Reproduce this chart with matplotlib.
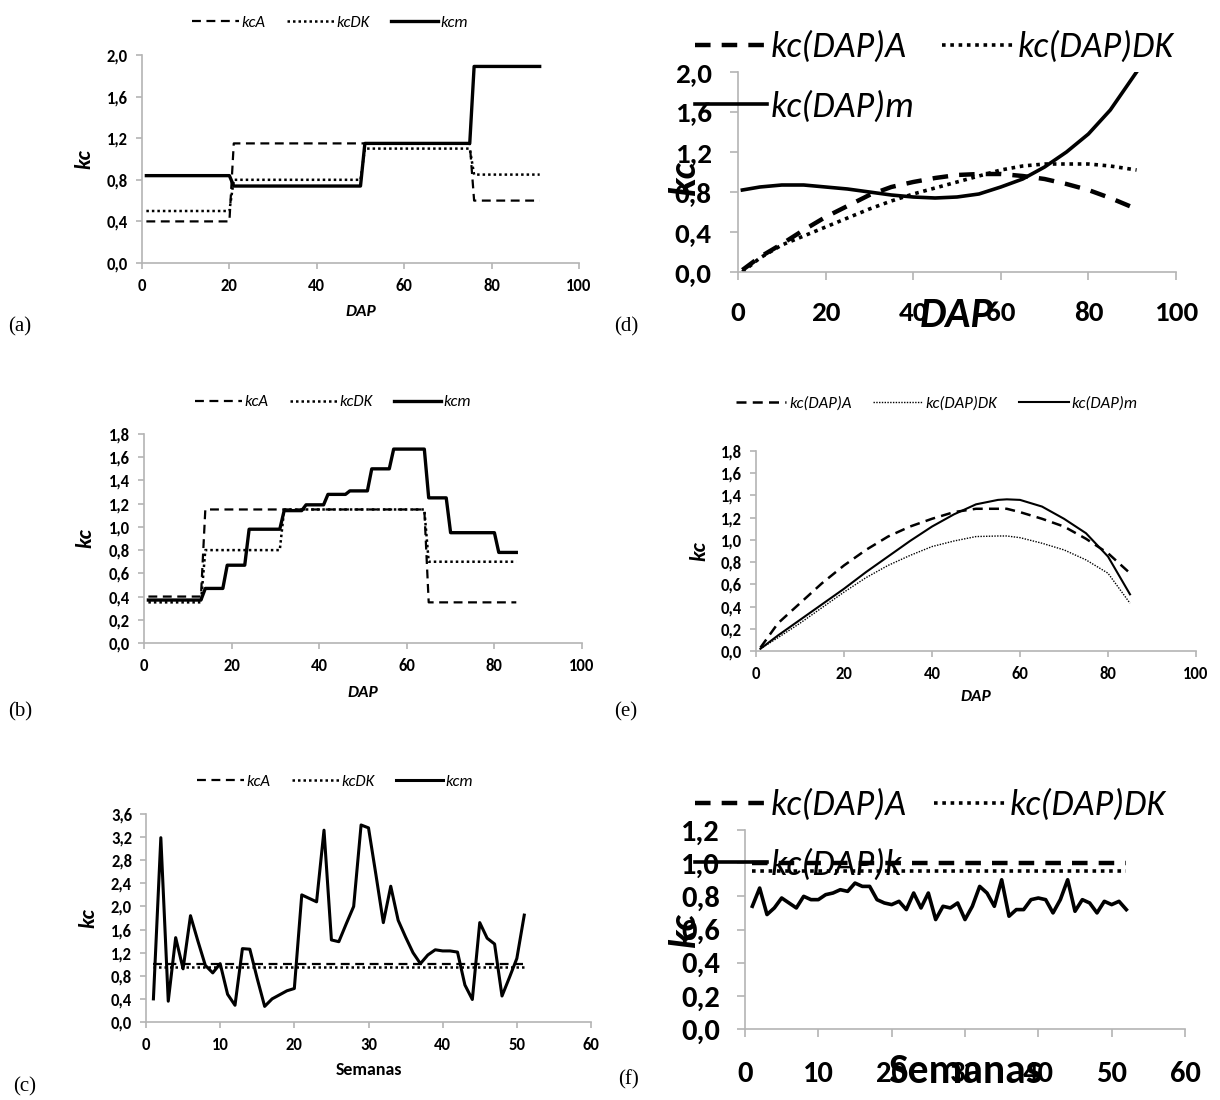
import numpy as np
import matplotlib
matplotlib.use("Agg")
import matplotlib.pyplot as plt
from matplotlib.ticker import FuncFormatter, MultipleLocator

plt.rcParams['font.family'] = ['Carlito', 'DejaVu Sans']

# ======================================================
# DATA
# ======================================================
# (a) step kc by stage (DAP)
a_x_A = [1, 20, 21, 75, 76, 91]
a_kcA = [0.40, 0.40, 1.15, 1.15, 0.60, 0.60]
a_x_DK = [1, 20, 21, 50, 51, 75, 76, 91]
a_kcDK = [0.50, 0.50, 0.80, 0.80, 1.10, 1.10, 0.85, 0.85]
a_x_m = [1, 20, 21, 50, 51, 75, 76, 91]
a_kcm = [0.84, 0.84, 0.74, 0.74, 1.15, 1.15, 1.89, 1.89]

# (b) step kc by stage (DAP)
b_x_A = [1, 13, 14, 64, 65, 85]
b_kcA = [0.40, 0.40, 1.15, 1.15, 0.35, 0.35]
b_x_DK = [1, 13, 14, 31, 32, 64, 65, 85]
b_kcDK = [0.35, 0.35, 0.80, 0.80, 1.15, 1.15, 0.70, 0.70]
b_x_m = [1, 13, 14, 18, 19, 23, 24, 31, 32, 36, 37, 41, 42, 46, 47, 51,
         52, 56, 57, 64, 65, 69, 70, 80, 81, 85]
b_kcm = [0.37, 0.37, 0.47, 0.47, 0.67, 0.67, 0.98, 0.98, 1.14, 1.14,
         1.19, 1.19, 1.28, 1.28, 1.31, 1.31, 1.50, 1.50, 1.67, 1.67,
         1.25, 1.25, 0.95, 0.95, 0.78, 0.78]

# (c) weekly kc
c_weeks = list(range(1, 52))
c_kcA = [1.00] * 51
c_kcDK = [0.95] * 51
c_kcm = [0.40, 3.19, 0.36, 1.46, 0.92, 1.84, 1.40, 0.98, 0.85, 1.01,
         0.48, 0.29, 1.27, 1.26, 0.75, 0.27, 0.40, 0.47, 0.54, 0.58,
         2.20, 2.14, 2.08, 3.32, 1.42, 1.39, 1.70, 2.00, 3.41, 3.36,
         2.55, 1.72, 2.35, 1.76, 1.47, 1.20, 1.01, 1.16, 1.25, 1.23,
         1.23, 1.21, 0.64, 0.39, 1.72, 1.45, 1.35, 0.45, 0.77, 1.10,
         1.85]

# (d) kc(DAP) fitted curves
d_dap = [1, 5, 10, 15, 20, 25, 30, 35, 40, 45, 50, 55, 60, 65, 70, 75, 80, 85, 91]
d_kcA = [0.02, 0.15, 0.28, 0.42, 0.55, 0.66, 0.77, 0.85, 0.90, 0.94, 0.97, 0.98,
         0.98, 0.96, 0.93, 0.88, 0.82, 0.74, 0.63]
d_kcDK = [0.00, 0.14, 0.27, 0.36, 0.45, 0.54, 0.63, 0.71, 0.78, 0.84, 0.90, 0.96,
          1.02, 1.06, 1.08, 1.08, 1.08, 1.06, 1.02]
d_kcm = [0.82, 0.85, 0.87, 0.87, 0.85, 0.83, 0.80, 0.77, 0.75, 0.74, 0.75, 0.78,
         0.85, 0.93, 1.05, 1.20, 1.38, 1.62, 2.00]

# (e) kc(DAP) fitted curves
e_dap = [1, 5, 10, 15, 20, 25, 30, 35, 40, 45, 50, 55, 57, 60, 65, 70, 75, 80, 85]
e_kcA = [0.03, 0.25, 0.43, 0.61, 0.77, 0.91, 1.03, 1.12, 1.19, 1.25, 1.28, 1.28,
         1.28, 1.25, 1.19, 1.12, 1.01, 0.88, 0.70]
e_kcDK = [0.02, 0.12, 0.25, 0.39, 0.53, 0.66, 0.77, 0.86, 0.94, 0.99, 1.03, 1.035,
          1.035, 1.02, 0.97, 0.91, 0.82, 0.70, 0.43]
e_kcm = [0.02, 0.14, 0.28, 0.42, 0.56, 0.71, 0.85, 0.99, 1.12, 1.23, 1.32, 1.36,
         1.365, 1.36, 1.30, 1.19, 1.06, 0.85, 0.51]

# (f) weekly kc(DAP)
f_weeks = list(range(1, 53))
f_kcA = [1.00] * 52
f_kcDK = [0.95] * 52
f_kck = [0.74, 0.85, 0.69, 0.73, 0.79, 0.76, 0.73, 0.80, 0.78, 0.78,
         0.81, 0.82, 0.84, 0.83, 0.88, 0.86, 0.86, 0.78, 0.76, 0.75,
         0.77, 0.72, 0.82, 0.73, 0.82, 0.66, 0.74, 0.73, 0.76, 0.66,
         0.74, 0.86, 0.82, 0.74, 0.90, 0.68, 0.72, 0.72, 0.78, 0.79,
         0.78, 0.70, 0.78, 0.90, 0.71, 0.78, 0.76, 0.70, 0.77, 0.75,
         0.77, 0.72]

# ======================================================
# LAYOUT HELPERS
# ======================================================
W, H = 1220, 1100
fig = plt.figure(figsize=(W / 100, H / 100), dpi=100)

GRAY = '#b4b4b4'
DASH = (0, (4, 2.5))
DOT = (0, (1, 1.2))
comma = FuncFormatter(lambda v, p: f"{v:.1f}".replace('.', ','))
all_axes = []


def px_axes(left, top, right, bottom):
    ax = fig.add_axes([left / W, 1 - bottom / H, (right - left) / W, (bottom - top) / H])
    all_axes.append(ax)
    return ax


def excel_style(ax, xmax, xstep, ymax, ystep, fs, ticklen, xpad, ypad):
    ax.set_xlim(0, xmax)
    ax.set_ylim(0, ymax)
    ax.xaxis.set_major_locator(MultipleLocator(xstep))
    ax.yaxis.set_major_locator(MultipleLocator(ystep))
    ax.yaxis.set_major_formatter(comma)
    for s in ['top', 'right']:
        ax.spines[s].set_visible(False)
    for s in ['left', 'bottom']:
        ax.spines[s].set_color(GRAY)
        ax.spines[s].set_linewidth(1.2)
    ax.tick_params(axis='both', direction='out', color=GRAY, width=1.2,
                   length=ticklen, labelsize=fs)
    ax.tick_params(axis='x', pad=xpad)
    ax.tick_params(axis='y', pad=ypad)
    ax.patch.set_alpha(0)


def labels(ax, xlab, xy, ylab, yx, yy=0.5, xfs=12.5, yfs=16, xitalic=True):
    ax.set_xlabel(xlab, fontsize=xfs, fontweight='bold',
                  style='italic' if xitalic else 'normal')
    ax.xaxis.set_label_coords(0.5, xy)
    ax.set_ylabel(ylab, fontsize=yfs, fontweight='bold', style='italic')
    ax.yaxis.set_label_coords(yx, yy)


def panel_tag(x, y, txt):
    fig.text(x / W, 1 - y / H, txt, family='Liberation Serif', fontsize=15,
             ha='left', va='center')


def small_legend(ax, cx, cy, labels, fs=12, hl=2.8):
    ax.legend(labels=labels, loc='center', bbox_to_anchor=(cx / W, 1 - cy / H),
              bbox_transform=fig.transFigure, ncol=3, frameon=False,
              prop={'style': 'italic', 'size': fs},
              handlelength=hl, handletextpad=0.15, columnspacing=1.3)


def big_legend(ax, x, y, handles, labels):
    # two columns, filled row by row: A, DK / third series
    order = [0, 2, 1]
    ax.legend([handles[i] for i in order], [labels[i] for i in order],
              loc='upper left', bbox_to_anchor=(x / W, 1 - y / H),
              bbox_transform=fig.transFigure, ncol=2, frameon=False,
              prop={'style': 'italic', 'size': 26},
              handlelength=2.0, handletextpad=0.1, columnspacing=0.75,
              labelspacing=0.75, borderpad=0, borderaxespad=0)


# ======================================================
# (a)
# ======================================================
ax = px_axes(142, 55, 579, 263)
ax.plot(a_x_A, a_kcA, color='k', lw=1.6, ls=DASH)
ax.plot(a_x_DK, a_kcDK, color='k', lw=1.8, ls=DOT)
ax.plot(a_x_m, a_kcm, color='k', lw=2.4)
excel_style(ax, 100, 20, 2.0, 0.4, 12, 4, 7, 6)
labels(ax, 'DAP', -0.2, 'kc', -0.11)
small_legend(ax, 330, 23, ['kcA', 'kcDK', 'kcm'])
panel_tag(8, 327, '(a)')

# ======================================================
# (b)
# ======================================================
ax = px_axes(144, 434, 582, 643)
ax.plot(b_x_A, b_kcA, color='k', lw=1.6, ls=DASH)
ax.plot(b_x_DK, b_kcDK, color='k', lw=1.8, ls=DOT)
ax.plot(b_x_m, b_kcm, color='k', lw=2.4)
excel_style(ax, 100, 20, 1.8, 0.2, 12, 4, 7, 6)
labels(ax, 'DAP', -0.205, 'kc', -0.11)
small_legend(ax, 333, 402, ['kcA', 'kcDK', 'kcm'])
panel_tag(8, 712, '(b)')

# ======================================================
# (c)
# ======================================================
ax = px_axes(146, 814, 591, 1022)
ax.plot(c_weeks, c_kcA, color='k', lw=1.6, ls=DASH)
ax.plot(c_weeks, c_kcDK, color='k', lw=1.8, ls=DOT)
ax.plot(c_weeks, c_kcm, color='k', lw=2.2)
excel_style(ax, 60, 10, 3.6, 0.4, 12, 4, 7, 6)
labels(ax, 'Semanas', -0.19, 'kc', -0.108, xfs=13, xitalic=False)
small_legend(ax, 335, 782, ['kcA', 'kcDK', 'kcm'])
panel_tag(13, 1087, '(c)')

# ======================================================
# (d)
# ======================================================
ax = px_axes(738, 72, 1176, 272)
hA, = ax.plot(d_dap, d_kcA, color='k', lw=3.2, ls=(0, (3.5, 2.5)))
hDK, = ax.plot(d_dap, d_kcDK, color='k', lw=2.6, ls=(0, (1, 1.3)))
hm, = ax.plot(d_dap, d_kcm, color='k', lw=2.6)
excel_style(ax, 100, 20, 2.0, 0.4, 21, 6, 15, 13)
labels(ax, 'DAP', -0.125, 'kc', -0.084, yy=0.47, xfs=30, yfs=28)
big_legend(ax, 695, 31, [hA, hDK, hm], ['kc(DAP)A', 'kc(DAP)DK', 'kc(DAP)m'])
panel_tag(614, 327, '(d)')

# ======================================================
# (e)
# ======================================================
ax = px_axes(756, 451, 1196, 651)
ax.plot(e_dap, e_kcA, color='k', lw=1.8, ls=(0, (4, 2.5)))
ax.plot(e_dap, e_kcDK, color='k', lw=1.0, ls=(0, (1, 1)))
ax.plot(e_dap, e_kcm, color='k', lw=1.5)
excel_style(ax, 100, 20, 1.8, 0.2, 12, 4, 7, 6)
labels(ax, 'DAP', -0.195, 'kc', -0.107)
small_legend(ax, 937, 403, ['kc(DAP)A', 'kc(DAP)DK', 'kc(DAP)m'], fs=12, hl=3.0)
panel_tag(614, 712, '(e)')

# ======================================================
# (f)
# ======================================================
ax = px_axes(745, 830, 1185, 1029)
hA, = ax.plot(f_weeks, f_kcA, color='k', lw=3.2, ls=(0, (3.5, 2.5)))
hDK, = ax.plot(f_weeks, f_kcDK, color='k', lw=2.6, ls=(0, (1, 1.3)))
hk, = ax.plot(f_weeks, f_kck, color='k', lw=2.6)
excel_style(ax, 60, 10, 1.2, 0.2, 22, 6, 17, 12)
labels(ax, 'Semanas', -0.12, 'kc', -0.1, xfs=30, yfs=28, xitalic=False)
big_legend(ax, 695, 789, [hA, hDK, hk], ['kc(DAP)A', 'kc(DAP)DK', 'kc(DAP)k'])
panel_tag(618, 1080, '(f)')

# tick labels in bold (set after a draw so every tick exists)
fig.canvas.draw()
for ax in all_axes:
    for lab in ax.get_xticklabels() + ax.get_yticklabels():
        lab.set_fontweight('bold')

fig.savefig('out.png', dpi=100)
